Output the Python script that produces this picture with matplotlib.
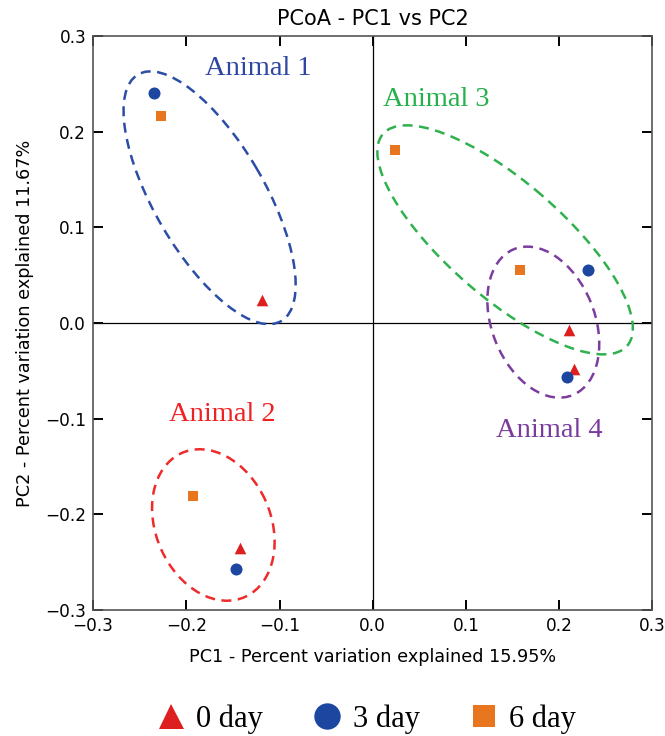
import numpy as np
import matplotlib.pyplot as plt
from matplotlib.patches import Ellipse
from matplotlib.lines import Line2D

# PCoA coordinates (PC1, PC2), grouped by sampling day
day0_x = [-0.119, -0.142, 0.211, 0.216]
day0_y = [0.024, -0.235, -0.007, -0.048]
day3_x = [-0.235, -0.147, 0.231, 0.208]
day3_y = [0.241, -0.257, 0.056, -0.056]
day6_x = [-0.227, -0.193, 0.024, 0.158]
day6_y = [0.216, -0.181, 0.181, 0.055]

# group ellipses: centre, full width/height (data units), angle
animals = ["Animal 1", "Animal 2", "Animal 3", "Animal 4"]
ell_cx = [-0.175, -0.171, 0.142, 0.183]
ell_cy = [0.131, -0.211, 0.087, 0.001]
ell_w = [0.300, 0.165, 0.343, 0.165]
ell_h = [0.118, 0.123, 0.122, 0.110]
ell_ang = [121, 115, 140, 113]
label_x = [-0.123, -0.161, 0.068, 0.189]
label_y = [0.266, -0.096, 0.234, -0.112]

ell_colors = ["#2c4da6", "#ee2a2a", "#2fb14e", "#7b3d9e"]
txt_colors = ["#2e46a2", "#ee2222", "#24b04a", "#7a3c9c"]
c_tri, c_circ, c_sq = "#dd1f1f", "#1c46a0", "#e8761f"
tick_text = ["\u22120.3", "\u22120.2", "\u22120.1", "0.0", "0.1", "0.2", "0.3"]

fig = plt.figure(figsize=(6.65, 7.36), dpi=100)
ax = fig.add_axes([0.140, 0.171, 0.841, 0.780])

ax.axhline(0, color="k", lw=0.9, zorder=1)
ax.axvline(0, color="k", lw=0.9, zorder=1)

for i, name in enumerate(animals):
    e = Ellipse((ell_cx[i], ell_cy[i]), ell_w[i], ell_h[i], angle=ell_ang[i],
                fill=False, edgecolor=ell_colors[i], lw=1.8,
                linestyle=(0, (4, 2.6)), zorder=2)
    ax.add_patch(e)
    ax.text(label_x[i], label_y[i], name, color=txt_colors[i], fontsize=20.5,
            family="Liberation Serif", ha="center", va="center")

ax.scatter(day0_x, day0_y, marker="^", s=70, color=c_tri, zorder=3, lw=0)
ax.scatter(day3_x, day3_y, marker="o", s=75, color=c_circ, zorder=3, lw=0)
ax.scatter(day6_x, day6_y, marker="s", s=60, color=c_sq, zorder=3, lw=0)

ax.set_xlim(-0.3, 0.3)
ax.set_ylim(-0.3, 0.3)
ticks = [-0.3, -0.2, -0.1, 0.0, 0.1, 0.2, 0.3]
ax.set_xticks(ticks)
ax.set_yticks(ticks)
ax.set_xticklabels(tick_text)
ax.set_yticklabels(tick_text)
ax.tick_params(direction="in", length=7, width=1.4, top=True, right=True,
               labelsize=12.2, pad=5, color="k")
for s in ax.spines.values():
    s.set_color("#555555")
    s.set_linewidth(1.2)

ax.set_title("PCoA - PC1 vs PC2", fontsize=15, pad=8)
ax.set_xlabel("PC1 - Percent variation explained 15.95%", fontsize=12.7, labelpad=9)
ax.set_ylabel("PC2 - Percent variation explained 11.67%", fontsize=12.7, labelpad=8)

handles = [
    Line2D([], [], ls="none", marker="^", ms=18, color=c_tri, mew=0),
    Line2D([], [], ls="none", marker="o", ms=19, color=c_circ, mew=0),
    Line2D([], [], ls="none", marker="s", ms=16.5, color=c_sq, mew=0),
]
fig.legend(handles, ["0 day", "3 day", "6 day"], loc="center",
           bbox_to_anchor=(0.550, 0.023), ncol=3, frameon=False,
           prop={"family": "Liberation Serif", "size": 22},
           handletextpad=0.33, columnspacing=1.6, handlelength=1.0)

fig.savefig("out.png", dpi=100)
